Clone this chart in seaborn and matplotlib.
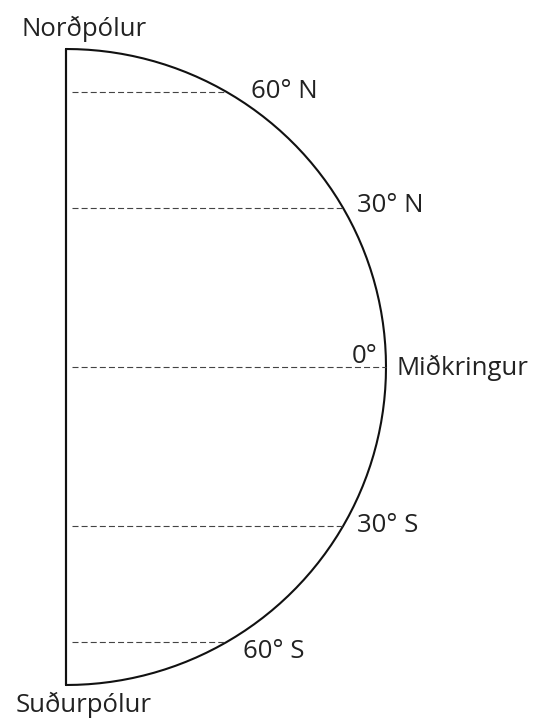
import numpy as np
import pandas as pd
import matplotlib.pyplot as plt
import seaborn as sns

# latitudes drawn as dashed lines, with their labels
latitudes = [60, 30, 0, -30, -60]
lat_labels = ["60° N", "30° N", "0°", "30° S", "60° S"]
pole_labels = ["Norðpólur", "Suðurpólur"]
equator_label = "Miðkringur"

sns.set_theme(style="white")
plt.rcParams["font.family"] = ["Open Sans", "DejaVu Sans"]

fig = plt.figure(figsize=(5.37, 7.2), dpi=100)
ax = fig.add_axes([0, 0, 1, 1])

# outline: half circle plus the polar axis
theta = np.radians(np.linspace(90, -90, 181))
outline = pd.DataFrame({
    "x": np.concatenate([[0.0], np.cos(theta), [0.0]]),
    "y": np.concatenate([[-1.0], np.sin(theta), [1.0]]),
})
outline["x"] = outline["x"].round(6)
sns.lineplot(data=outline, x="x", y="y", sort=False, color="#111111",
             linewidth=1.5, ax=ax, estimator=None)

lat = np.radians(latitudes)
ax.hlines(np.sin(lat), 0.02, np.cos(lat), colors="#444444", linewidth=0.8,
          linestyles=(0, (5.4, 2.8)))

# pixel -> data helpers (x: 66px -> 0, 386px -> 1 ; y: 367px -> 0, radius 318px)
def px(xp):
    return (xp - 66) / 320


def py(yp):
    return (367 - yp) / 318


ax.set_xlim(px(0), px(537))
ax.set_ylim(py(720), py(0))
ax.axis("off")

fs = 18.5
label_pos = [(251, 98), (357, 212), (352, 363), (357, 532), (243, 658)]
for text, (xp, yp) in zip(lat_labels, label_pos):
    ax.text(px(xp), py(yp), text, fontsize=fs, ha="left", va="baseline",
            color="#222222")

ax.text(px(397), py(375), equator_label, fontsize=fs, ha="left",
        va="baseline", color="#222222")
ax.text(px(22), py(36), pole_labels[0], fontsize=fs, ha="left",
        va="baseline", color="#222222")
ax.text(px(16), py(712), pole_labels[1], fontsize=fs, ha="left",
        va="baseline", color="#222222")

fig.savefig("out.png", dpi=100)
